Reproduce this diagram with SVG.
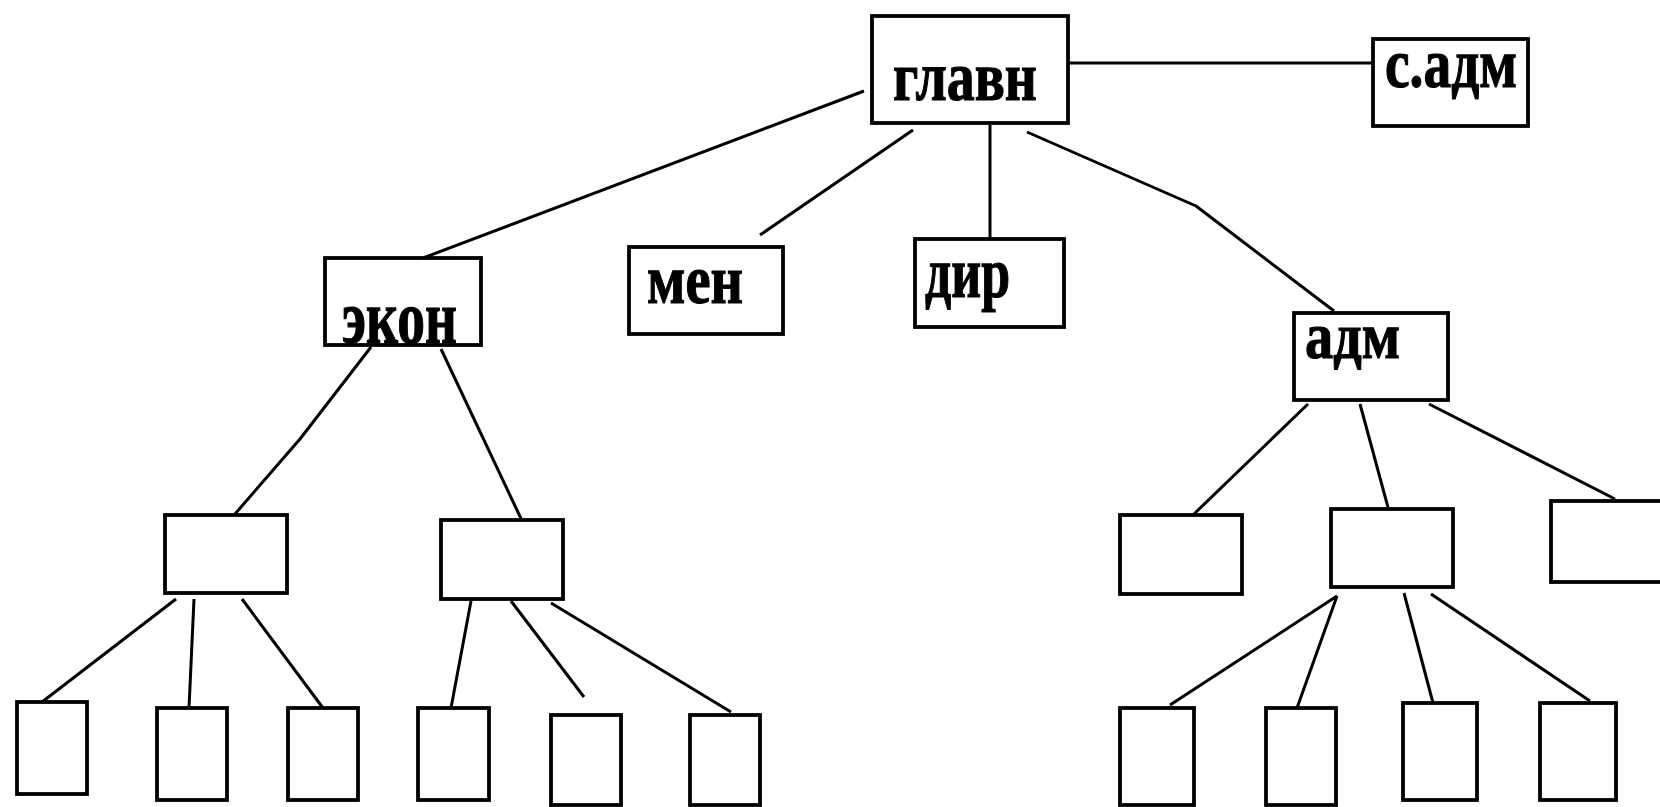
<svg xmlns="http://www.w3.org/2000/svg" width="1660" height="807" viewBox="0 0 1660 807">
<style>
.box{fill:#fff;stroke:#000;stroke-width:3.8}
.c{fill:none;stroke:#000;stroke-width:3;stroke-linejoin:round}
.t{font-family:"Liberation Serif","DejaVu Serif",serif;font-weight:bold;fill:#000;stroke:#000;stroke-width:1.2}
</style>
<rect width="1660" height="807" fill="#fff"/>
<g id="connectors">
<line class="c" x1="1069" y1="63" x2="1373" y2="63"/>
<polyline class="c" points="864,91 423,258"/>
<polyline class="c" points="913,130 760,235"/>
<polyline class="c" points="990,125 990,239"/>
<polyline class="c" points="1027,132 1196,206 1334,311"/>
<polyline class="c" points="371,347 300,439 235,514"/>
<polyline class="c" points="441,349 524,525"/>
<polyline class="c" points="176,599 42,702"/>
<polyline class="c" points="194,599 189,708"/>
<polyline class="c" points="242,599 323,708"/>
<polyline class="c" points="471,601 451,708"/>
<polyline class="c" points="511,601 584,697"/>
<polyline class="c" points="551,603 731,712"/>
<polyline class="c" points="1308,404 1194,514"/>
<polyline class="c" points="1360,404 1389,511"/>
<polyline class="c" points="1429,404 1615,499"/>
<polyline class="c" points="1337,596 1170,705"/>
<polyline class="c" points="1337,596 1297,708"/>
<polyline class="c" points="1404,593 1433,703"/>
<polyline class="c" points="1431,594 1590,701"/>
</g>
<g id="glavn"><rect class="box" x="872" y="16" width="196" height="107"/><text class="t" x="893" y="100" font-size="70" textLength="144" lengthAdjust="spacingAndGlyphs">главн</text></g>
<g id="sadm"><rect class="box" x="1373" y="39" width="155" height="87"/><text class="t" x="1385" y="87" font-size="70" textLength="132" lengthAdjust="spacingAndGlyphs">с.адм</text></g>
<g id="ekon"><rect class="box" x="325" y="258" width="156" height="87"/><text class="t" x="342" y="343" font-size="76" textLength="115" lengthAdjust="spacingAndGlyphs">экон</text></g>
<g id="men"><rect class="box" x="629" y="247" width="154" height="87"/><text class="t" x="647" y="303" font-size="70" textLength="96" lengthAdjust="spacingAndGlyphs">мен</text></g>
<g id="dir"><rect class="box" x="915" y="239" width="149" height="88"/><text class="t" x="925" y="297" font-size="72" textLength="85" lengthAdjust="spacingAndGlyphs">дир</text></g>
<g id="adm"><rect class="box" x="1294" y="313" width="154" height="87"/><text class="t" x="1305" y="358" font-size="66" textLength="95" lengthAdjust="spacingAndGlyphs">адм</text></g>
<g id="mid1"><rect class="box" x="165" y="515" width="122" height="78"/></g>
<g id="mid2"><rect class="box" x="441" y="520" width="122" height="79"/></g>
<g id="midA"><rect class="box" x="1120" y="515" width="122" height="79"/></g>
<g id="midB"><rect class="box" x="1331" y="509" width="122" height="78"/></g>
<g id="midC"><rect class="box" x="1551" y="501" width="130" height="81"/></g>
<g id="leaf1"><rect class="box" x="17" y="702" width="70" height="92"/></g>
<g id="leaf2"><rect class="box" x="157" y="708" width="70" height="92"/></g>
<g id="leaf3"><rect class="box" x="288" y="708" width="70" height="92"/></g>
<g id="leaf4"><rect class="box" x="418" y="708" width="71" height="92"/></g>
<g id="leaf5"><rect class="box" x="551" y="715" width="70" height="90"/></g>
<g id="leaf6"><rect class="box" x="690" y="715" width="70" height="90"/></g>
<g id="leafR1"><rect class="box" x="1120" y="708" width="74" height="97"/></g>
<g id="leafR2"><rect class="box" x="1266" y="708" width="70" height="97"/></g>
<g id="leafR3"><rect class="box" x="1403" y="703" width="74" height="97"/></g>
<g id="leafR4"><rect class="box" x="1540" y="703" width="76" height="97"/></g>
</svg>
